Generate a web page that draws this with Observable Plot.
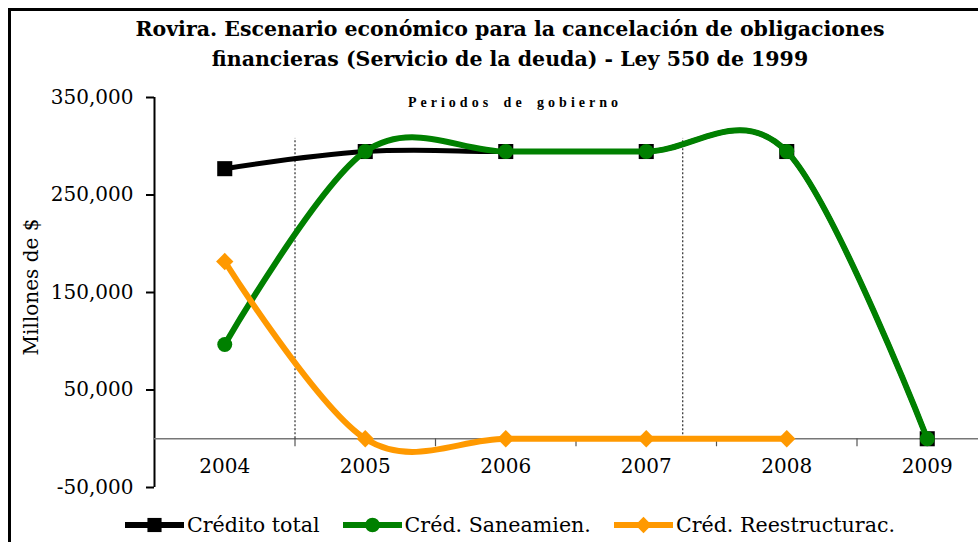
<!DOCTYPE html>
<html>
<head>
<meta charset="utf-8">
<script src="https://cdn.jsdelivr.net/npm/d3@7"></script>
<script src="https://cdn.jsdelivr.net/npm/@observablehq/plot@0.6"></script>
<style>
  html, body { margin: 0; padding: 0; }
  body { width: 978px; height: 542px; overflow: hidden; background: #fff; position: relative; font-family: "DejaVu Serif", serif; color: #000; }
  #frame { position: absolute; left: 8px; top: 8px; width: 1100px; height: 700px; border-left: 3px solid #000; border-top: 3px solid #000; }
  #title { position: absolute; left: 0; width: 1020px; top: 14px; text-align: center; font-family: "DejaVu Serif", serif; font-weight: bold; font-size: 20.5px; line-height: 30px; }
  #chart { position: absolute; left: 0; top: 80px; width: 1000px; }
  #chart svg { max-width: none !important; }
  #periodos { position: absolute; left: 0; width: 1030px; top: 95px; text-align: center; font-family: "Liberation Serif", serif; font-weight: bold; font-size: 14px; letter-spacing: 4px; word-spacing: 4px; }
  #ylab { position: absolute; left: 31px; top: 287px; transform: translate(-50%, -50%) rotate(-90deg); font-family: "DejaVu Serif", serif; font-size: 20px; white-space: nowrap; }
  #legend { position: absolute; left: 125px; top: 513px; display: flex; align-items: center; font-family: "DejaVu Serif", serif; font-size: 20.6px; white-space: nowrap; }
  .item { display: flex; align-items: center; margin-right: 23px; }
  .item svg { margin-right: 3px; }
</style>
</head>
<body>
<div id="frame"></div>
<div id="title">Rovira. Escenario económico para la cancelación de obligaciones<br>financieras (Servicio de la deuda) - Ley 550 de 1999</div>
<div id="periodos">Periodos de gobierno</div>
<div id="ylab">Millones de $</div>
<div id="chart"></div>
<div id="legend"></div>
<script>
// ---- data ----
const years = [2004, 2005, 2006, 2007, 2008, 2009];
const creditoTotal = [277000, 294600, 294600, 294600, 294600, 0];
const credSaneamiento = [96700, 294600, 294600, 294600, 294600, 0];
const credReestructuracion = [181800, 0, 0, 0, 0, null];
const yTicks = [-50000, 50000, 150000, 250000, 350000];
const periodBreaks = [2004.5, 2007.26];
const periodTop = 308000;
const categoryBounds = [2004.5, 2005.5, 2006.5, 2007.5, 2008.5, 2009.5];

const seriesNames = ["Crédito total", "Créd. Saneamien.", "Créd. Reestructurac."];
const seriesColors = ["#000000", "#008000", "#FF9900"];
const seriesSymbols = ["square", "circle", "diamond2"];

const rows = (vals) => years.map((x, i) => ({x, y: vals[i]})).filter(d => d.y != null);
const totalRows = rows(creditoTotal);
const sanRows = rows(credSaneamiento);
const resRows = rows(credReestructuracion);

const fmt = d => d3.format(",")(d).replace("\u2212", "-");
const smooth = { curve: "cardinal", tension: 0 };

const chart = Plot.plot({
  width: 1000,
  height: 420,
  marginLeft: 154,
  marginRight: 3,
  marginTop: 17,
  marginBottom: 13,
  style: { fontFamily: "'DejaVu Serif', serif", fontSize: "20px", background: "transparent", overflow: "visible", maxWidth: "none" },
  x: { domain: [2003.5, 2009.5] },
  y: { domain: [-50000, 350000] },
  marks: [
    Plot.ruleX([2003.5], { stroke: "#000", strokeWidth: 2 }),
    Plot.ruleY([0], { stroke: "#777", strokeWidth: 1.5 }),
    Plot.ruleX(categoryBounds, { x: d => d, y1: 0, y2: -8200, stroke: "#555", strokeWidth: 1.2 }),
    Plot.ruleX(periodBreaks, { x: d => d, y1: 0, y2: periodTop, stroke: "#000", strokeWidth: 1, strokeDasharray: "2,2" }),
    Plot.axisY(yTicks, { tickSize: 8, tickPadding: 13, tickFormat: fmt, stroke: "#000", strokeWidth: 2, fontSize: 20, fontFamily: "DejaVu Serif", label: null }),
    Plot.axisX(years, { tickSize: 0, tickPadding: 0, dy: -29, tickFormat: d => String(d), fontSize: 20, fontFamily: "DejaVu Serif", label: null }),
    Plot.line(totalRows, { x: "x", y: "y", ...smooth, stroke: seriesColors[0], strokeWidth: 5 }),
    Plot.dot(totalRows, { x: "x", y: "y", symbol: "square", r: 8.5, fill: seriesColors[0] }),
    Plot.line(sanRows, { x: "x", y: "y", ...smooth, stroke: seriesColors[1], strokeWidth: 6 }),
    Plot.dot(sanRows, { x: "x", y: "y", symbol: "circle", r: 7.5, fill: seriesColors[1] }),
    Plot.line(resRows, { x: "x", y: "y", ...smooth, stroke: seriesColors[2], strokeWidth: 6 }),
    Plot.dot(resRows, { x: "x", y: "y", symbol: "diamond2", r: 7.8, fill: seriesColors[2] })
  ]
});
document.getElementById("chart").appendChild(chart);

// legend
const legend = document.getElementById("legend");
seriesNames.forEach((name, i) => {
  const item = document.createElement("div");
  item.className = "item";
  const sym = d3.create("svg").attr("width", 59).attr("height", 20);
  sym.append("line").attr("x1", 1).attr("x2", 58).attr("y1", 10).attr("y2", 10)
    .attr("stroke", seriesColors[i]).attr("stroke-width", 6).attr("stroke-linecap", "round");
  const symType = { square: d3.symbolSquare, circle: d3.symbolCircle, diamond2: d3.symbolDiamond2 }[seriesSymbols[i]];
  sym.append("path").attr("transform", "translate(29.5,10)")
    .attr("d", d3.symbol(symType, seriesSymbols[i] === "square" ? 200 : 170)())
    .attr("fill", seriesColors[i]);
  item.appendChild(sym.node());
  const t = document.createElement("span");
  t.textContent = name;
  item.appendChild(t);
  legend.appendChild(item);
});
</script>
</body>
</html>
